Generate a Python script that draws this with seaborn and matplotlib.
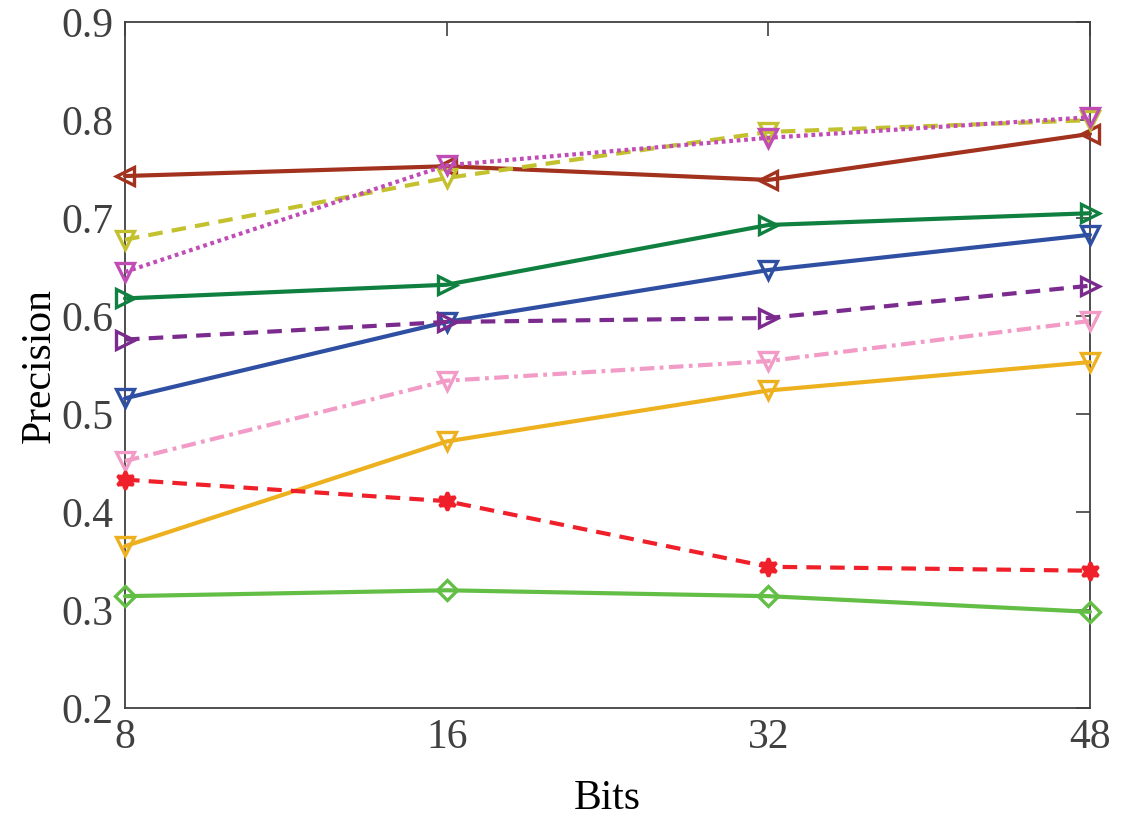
import numpy as np
import pandas as pd
import matplotlib
matplotlib.use('Agg')
import matplotlib.pyplot as plt
import seaborn as sns

sns.set_theme(style='white')
plt.rcParams['font.family'] = ['Liberation Serif', 'DejaVu Serif']
plt.rcParams['mathtext.fontset'] = 'stix'

# 데이터 - 그림에서 읽은 값
bits = ['8', '16', '32', '48']
s_brown = [0.743, 0.753, 0.739, 0.786]
s_olive = [0.678, 0.741, 0.788, 0.800]
s_magenta = [0.645, 0.754, 0.782, 0.803]
s_green = [0.618, 0.632, 0.693, 0.705]
s_blue = [0.516, 0.594, 0.647, 0.683]
s_purple = [0.576, 0.594, 0.598, 0.631]
s_pink = [0.452, 0.534, 0.554, 0.595]
s_orange = [0.365, 0.472, 0.524, 0.553]
s_red = [0.433, 0.411, 0.344, 0.340]
s_lgreen = [0.314, 0.320, 0.314, 0.298]

# (값, 색, 선스타일, 마커, 채움여부)
series = [
    (s_brown, '#A2321E', '-', '<', False),
    (s_olive, '#C3C12E', (0, (3.5, 2.2)), 'v', False),
    (s_magenta, '#C04CB6', (0, (0.9, 0.9)), 'v', False),
    (s_green, '#0F8040', '-', '>', False),
    (s_blue, '#2F4FA2', '-', 'v', False),
    (s_purple, '#7B2B8E', (0, (3.5, 2.2)), '>', False),
    (s_pink, '#F29BC7', (0, (3.5, 1.3, 0.9, 1.3)), 'v', False),
    (s_orange, '#EDB120', '-', 'v', False),
    (s_red, '#F0202A', (0, (3.5, 2.2)), (6, 1, 0), True),
    (s_lgreen, '#63BE45', '-', 'D', False),
]

fig = plt.figure(figsize=(11.26, 8.24), dpi=100)
ax = fig.add_axes([0.111, 0.141, 0.857, 0.832])

xpos = list(range(len(bits)))
for vals, col, ls, mk, filled in series:
    df = pd.DataFrame({'x': xpos, 'y': vals})
    ms = 10.5 if mk == 'D' else 13
    sns.lineplot(data=df, x='x', y='y', ax=ax, color=col, linestyle=ls, linewidth=3,
                 marker=mk, markersize=ms, markeredgewidth=2.4,
                 markerfacecolor=col if filled else 'none', markeredgecolor=col,
                 clip_on=False, zorder=3)

ax.set_xlim(0, len(bits) - 1)
ax.set_ylim(0.2, 0.9)
ax.set_xticks(xpos)
ax.set_xticklabels(bits)
ax.set_yticks(np.arange(0.2, 0.91, 0.1))
ax.set_yticklabels(['%.1f' % v for v in np.arange(0.2, 0.91, 0.1)])
ax.set_xlabel('Bits', fontsize=30, color='black', labelpad=16)
ax.set_ylabel('Precision', fontsize=30, color='black', labelpad=2)
ax.tick_params(axis='both', direction='in', length=10, width=1.2, labelsize=30,
               colors='#404040', top=True, right=True, pad=8)
for sp in ax.spines.values():
    sp.set_color('#404040')
    sp.set_linewidth(1.3)

fig.savefig('out.png', dpi=100)
